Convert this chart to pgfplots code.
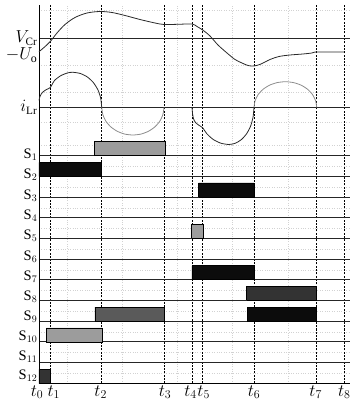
\documentclass[border=0pt]{standalone}
\usepackage{fontspec}
\setmainfont{Liberation Serif}
\usepackage{pgfplots}
\pgfplotsset{compat=1.18}
\definecolor{wave}{HTML}{2A2A2A}
\definecolor{wavegrey}{HTML}{8C8C8C}
\definecolor{barlight}{HTML}{9C9C9C}
\definecolor{barmid}{HTML}{5A5A5A}
\definecolor{bardark}{HTML}{333333}
\definecolor{barblack}{HTML}{0C0C0C}
\newcommand{\SL}[2]{\raisebox{#2}[0pt][0pt]{S$_{#1}$}}
\newcommand{\ML}[1]{{\fontsize{16}{18}\selectfont#1}}
\begin{document}
\begin{tikzpicture}
% faint background grid
\begin{axis}[at={(0,0)},anchor=south west,scale only axis,
  width=311pt,height=378.3pt,xmin=39,xmax=350,ymin=-383.3,ymax=-5,
  axis line style={draw=none},major tick length=0pt,
  xtick={67,122,177,232,288},
  ytick={-373,-352,-332,-311,-290,-270,-249,-228,-208,-187,-166,-145,-122,-92,-65,-10},
  xticklabels={},yticklabels={},
  grid=major,grid style={gray!35,dotted,line width=0.5pt}]
\addplot[draw=none] coordinates {(39,-5)};
\end{axis}
% main axis
\begin{axis}[name=ax,at={(0,0)},anchor=south west,scale only axis,
  width=311pt,height=378.3pt,xmin=39,xmax=350,ymin=-383.3,ymax=-5,
  axis lines=left,axis line style={-,black,line width=0.8pt},
  major tick length=0pt,
  xtick={39,50.3,101.7,164,192,202.7,254,316.7,344.3},
  xticklabels={\hspace{-4pt}$t_0$,\hspace{7pt}$t_1$,\hspace{-2pt}$t_2$,\hspace{2pt}$t_3$,\hspace{-3pt}$t_4$,\hspace{2pt}$t_5$,$t_6$,\hspace{-2pt}$t_7$,$t_8$},
  ytick={-362.6,-341.9,-321.2,-300.5,-279.8,-259.1,-238.4,-217.7,-197,-176.3,-155.6,-107.3,-38},
  yticklabels={\SL{11}{1.8pt},\SL{10}{1.2pt},\SL{9}{0.5pt},\SL{8}{-0.2pt},\SL{7}{-0.7pt},\SL{6}{-1pt},\SL{5}{-1.4pt},\SL{4}{-1.8pt},\SL{3}{-2.2pt},\SL{2}{-2.5pt},\SL{1}{-2.8pt},\ML{$i_{\mathrm{Lr}}$},\ML{$V_{\mathrm{Cr}}$}},
  extra y ticks={-383.3,-63},
  extra y tick labels={S$_{12}$,{\fontsize{17}{19}\selectfont$-U_{\mathrm{o}}$\hspace{5pt}}},
  extra y tick style={grid=none,yticklabel style={yshift=8pt}},
  grid=major,
  major x grid style={black,line width=0.8pt,dash pattern=on 2pt off 1.3pt},
  major y grid style={black!85,line width=0.8pt},
  yticklabel style={inner sep=1.5pt,font=\fontsize{14.5}{16}\selectfont},
  xticklabel style={inner sep=1pt,yshift=-1pt,font=\fontsize{17}{19}\selectfont},
  clip=false]
% V_Cr waveform
\addplot[wave,line width=0.8pt,smooth,tension=0.5] coordinates {
(39,-51.7) (44,-47.5) (50.3,-41.5) (57,-33) (65,-24.5) (75,-17.5) (87,-13) (100,-11.5)
(112,-12.5) (125,-15.5) (140,-19.5) (155,-23) (164,-24.5) (178,-24.3) (192,-24)
(197,-26.5) (202.7,-30) (210,-36) (218,-45) (227,-53) (235,-59.5) (242,-63) (248,-65.5)
(254,-66) (261,-64) (270,-59.5) (279,-56.5) (290,-55) (303,-54) (312,-53) (316.7,-52) (344,-52)};
% i_Lr waveform
\addplot[wave,line width=0.8pt,smooth,tension=0.4] coordinates {
(39,-100.5) (39.8,-97) (41.2,-94) (43.5,-91.5) (46.5,-89.5) (50.3,-87.5)
(54.5,-80.5) (60.9,-75.6) (68,-72.8) (73,-72.3) (80.4,-73.5) (87.4,-77) (93.3,-82.5)
(97.9,-89.8) (100.7,-98.2) (101.7,-107.3)};
\addplot[wavegrey,line width=0.8pt,smooth,tension=0.4] coordinates {
(101.7,-107.3) (102.8,-114.5) (105.9,-121.2) (110.8,-126.9) (117.3,-131.3) (124.8,-134.1)
(132.85,-135) (140.9,-134.1) (148.4,-131.3) (154.9,-126.9) (159.8,-121.2) (162.9,-114.5) (164,-107.3)};
\addplot[wave,line width=0.8pt,smooth,tension=0.4] coordinates {
(192,-107.3) (192.6,-114) (193.6,-119) (195.5,-122.5) (198.5,-125) (202.7,-127.8)
(206.7,-133.6) (213.25,-139.5) (220.85,-143.2) (229,-144.5) (235.5,-143.2) (241.5,-139.5)
(246.7,-133.6) (250.7,-125.9) (253.1,-116.9) (254,-107.3)};
\addplot[wavegrey,line width=0.8pt,smooth,tension=0.4] coordinates {
(254,-107.3) (255.1,-100.7) (258.2,-94.5) (263.2,-89.2) (269.7,-85.1) (277.2,-82.6)
(285.35,-81.7) (293.5,-82.6) (301,-85.1) (307.5,-89.2) (312.5,-94.5) (315.6,-100.7) (316.7,-107.3)};
% switch bars
\addplot[fill=barlight,draw=black,line width=0.6pt] coordinates {(94.7,-155.6) (165.3,-155.6) (165.3,-141.6) (94.7,-141.6) (94.7,-155.6)};
\addplot[fill=barblack,draw=black,line width=0.6pt] coordinates {(39,-176.3) (101.7,-176.3) (101.7,-162.3) (39,-162.3) (39,-176.3)};
\addplot[fill=barblack,draw=black,line width=0.6pt] coordinates {(198.7,-197) (254,-197) (254,-183) (198.7,-183) (198.7,-197)};
\addplot[fill=barlight,draw=black,line width=0.6pt] coordinates {(191.7,-238.4) (203.3,-238.4) (203.3,-224.4) (191.7,-224.4) (191.7,-238.4)};
\addplot[fill=barblack,draw=black,line width=0.6pt] coordinates {(192,-279.8) (254,-279.8) (254,-265.8) (192,-265.8) (192,-279.8)};
\addplot[fill=bardark,draw=black,line width=0.6pt] coordinates {(246.7,-300.5) (316.7,-300.5) (316.7,-286.5) (246.7,-286.5) (246.7,-300.5)};
\addplot[fill=barmid,draw=black,line width=0.6pt] coordinates {(95,-321.2) (164,-321.2) (164,-307.2) (95,-307.2) (95,-321.2)};
\addplot[fill=barblack,draw=black,line width=0.6pt] coordinates {(247,-321.2) (316,-321.2) (316,-307.2) (247,-307.2) (247,-321.2)};
\addplot[fill=barlight,draw=black,line width=0.6pt] coordinates {(46.3,-341.9) (102.3,-341.9) (102.3,-327.9) (46.3,-327.9) (46.3,-341.9)};
\addplot[fill=bardark,draw=black,line width=0.6pt] coordinates {(39,-383.3) (50.7,-383.3) (50.7,-369.3) (39,-369.3) (39,-383.3)};
\end{axis}
\pgfresetboundingbox
\path ([shift={(-39pt,-18.7pt)}]ax.south west) rectangle ([shift={(0pt,5pt)}]ax.north east);
\end{tikzpicture}
\end{document}
